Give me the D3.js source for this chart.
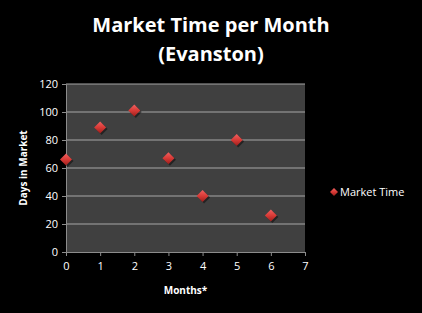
<!DOCTYPE html>
<html>
<head>
<meta charset="utf-8">
<script src="https://cdn.jsdelivr.net/npm/d3@7"></script>
<style>
  body { margin: 0; background: #000; }
  text { font-family: "Open Sans", "DejaVu Sans", sans-serif; fill: #fff; }
</style>
</head>
<body>
<svg id="mainsvg" width="422" height="313"></svg>
<script>
const months = [0, 1, 2, 3, 4, 5, 6];
const marketTime = [66, 89, 101, 67, 40, 80, 26];
const xTicks = [0, 1, 2, 3, 4, 5, 6, 7];
const yTicks = [0, 20, 40, 60, 80, 100, 120];
const seriesName = 'Market Time';

const svg = d3.select('#mainsvg');
const margin = { top: 84, left: 66, right: 117, bottom: 61 };
const width = +svg.attr('width');
const height = +svg.attr('height');
const innerWidth = width - margin.left - margin.right;
const innerHeight = height - margin.top - margin.bottom;

svg.append('rect').attr('width', width).attr('height', height).attr('fill', '#000');

const defs = svg.append('defs');
const grad = defs.append('linearGradient').attr('id', 'redgrad')
  .attr('x1', 0).attr('y1', 0).attr('x2', 0).attr('y2', 1);
grad.append('stop').attr('offset', '0%').attr('stop-color', '#f06060');
grad.append('stop').attr('offset', '50%').attr('stop-color', '#d83a36');
grad.append('stop').attr('offset', '100%').attr('stop-color', '#9a1f1c');

const g = svg.append('g').attr('transform', `translate(${margin.left}, ${margin.top})`);

const xScale = d3.scaleLinear().domain([0, 7]).range([0, innerWidth]);
const yScale = d3.scaleLinear().domain([0, 120]).range([innerHeight, 0]);

g.append('rect').attr('width', innerWidth).attr('height', innerHeight).attr('fill', '#404040');

// gridlines
g.selectAll('.grid').data(yTicks.slice(1)).join('line').attr('class', 'grid')
  .attr('x1', 0).attr('x2', innerWidth)
  .attr('y1', d => yScale(d)).attr('y2', d => yScale(d))
  .attr('stroke', '#a6a6a6').attr('stroke-width', 1);

const yAxis = d3.axisLeft(yScale).tickValues(yTicks).tickFormat(d3.format('d')).tickSize(4).tickPadding(4);
const yAxisGroup = g.append('g').call(yAxis);
const xAxis = d3.axisBottom(xScale).tickValues(xTicks).tickFormat(d3.format('d')).tickSize(4).tickPadding(6);
const xAxisGroup = g.append('g').attr('transform', `translate(0, ${innerHeight})`).call(xAxis);
[yAxisGroup, xAxisGroup].forEach(ax => {
  ax.selectAll('path, line').attr('stroke', '#8c8c8c');
  ax.selectAll('text').attr('fill', '#fff').style('font-size', '11px');
});

// markers
const diamond = 'M0,-6L6,0L0,6L-6,0Z';
g.selectAll('.shadow').data(months).join('path').attr('class', 'shadow')
  .attr('d', diamond)
  .attr('transform', (d, i) => `translate(${xScale(d) + 1.5}, ${yScale(marketTime[i]) + 1.5})`)
  .attr('fill', '#000').attr('opacity', 0.45);
g.selectAll('.pt').data(months).join('path').attr('class', 'pt')
  .attr('d', diamond)
  .attr('transform', (d, i) => `translate(${xScale(d)}, ${yScale(marketTime[i])})`)
  .attr('fill', 'url(#redgrad)');

// title
svg.append('text').attr('x', 211).attr('y', 32).attr('text-anchor', 'middle')
  .style('font-size', '20px').style('font-weight', 'bold').text('Market Time per Month');
svg.append('text').attr('x', 211).attr('y', 61).attr('text-anchor', 'middle')
  .style('font-size', '20px').style('font-weight', 'bold').text('(Evanston)');

// axis titles
svg.append('text').attr('transform', `translate(27, ${margin.top + innerHeight / 2}) rotate(-90)`)
  .attr('text-anchor', 'middle').style('font-size', '10px').style('font-weight', 'bold')
  .text('Days  in Market');
svg.append('text').attr('x', margin.left + innerWidth / 2).attr('y', 294)
  .attr('text-anchor', 'middle').style('font-size', '10px').style('font-weight', 'bold')
  .text('Months*');

// legend
const legend = svg.append('g').attr('transform', 'translate(334, 192)');
legend.append('path').attr('d', 'M0,-4L4,0L0,4L-4,0Z').attr('fill', 'url(#redgrad)');
legend.append('text').attr('x', 6).attr('y', 4).style('font-size', '11px').text(seriesName);
</script>
</body>
</html>
